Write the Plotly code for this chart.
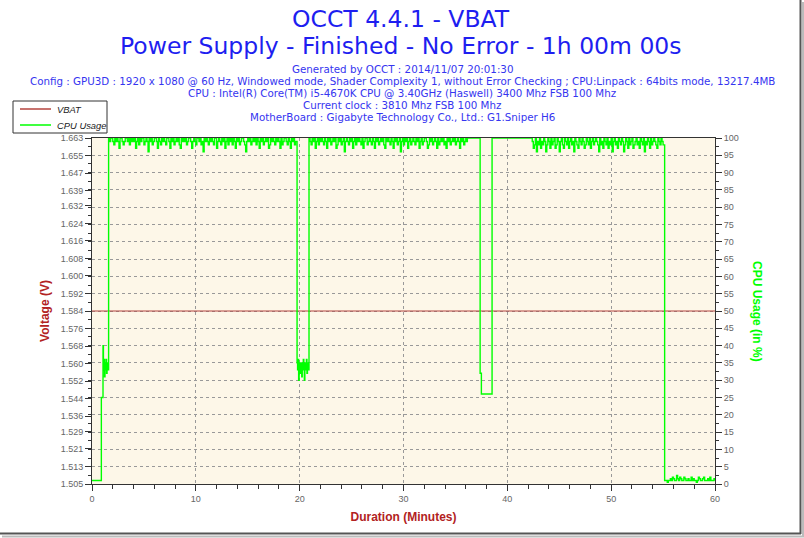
import numpy as np
import plotly.graph_objects as go

# ---------------- data ----------------
title_main = "OCCT 4.4.1 - VBAT"
title_sub = "Power Supply - Finished - No Error - 1h 00m 00s"
info_lines = [
    "Generated by OCCT : 2014/11/07 20:01:30",
    "Config : GPU3D : 1920 x 1080 @ 60 Hz, Windowed mode, Shader Complexity 1, without Error Checking ; CPU:Linpack : 64bits mode, 13217.4MB",
    "CPU : Intel(R) Core(TM) i5-4670K CPU @ 3.40GHz (Haswell) 3400 Mhz FSB 100 Mhz",
    "Current clock : 3810 Mhz FSB 100 Mhz",
    "MotherBoard : Gigabyte Technology Co., Ltd.: G1.Sniper H6",
]
series_names = ["VBAT", "CPU Usage"]

volt_ticks = [1.505, 1.513, 1.521, 1.529, 1.536, 1.544, 1.552, 1.560, 1.568, 1.576,
              1.584, 1.592, 1.600, 1.608, 1.616, 1.624, 1.632, 1.639, 1.647, 1.655, 1.663]
volt_labels = ["%.3f" % v for v in volt_ticks]

vbat_time = [0, 60]
vbat_value = [1.584, 1.584]

# CPU usage, piecewise (minutes, %)
cpu_start_t = [0.0, 0.9, 0.9, 1.06]
cpu_start_v = [1, 1, 25, 40]

dip1_v = [33, 36, 31, 35, 33, 36, 32, 34, 35, 33]            # from 1.10, step 0.05
seg1_v = [100, 99, 100, 100, 99, 98, 100, 99, 100, 99, 97, 100, 100, 99, 98, 99, 100, 100, 99, 100,
          98, 100, 99, 100, 99, 100, 97, 99, 100, 98, 100, 99, 100, 100, 98, 99, 100, 99, 96, 100,
          99, 100, 98, 99, 100, 100, 99, 97, 100, 99, 98, 100, 99, 100, 99, 98, 100, 100, 99, 97,
          100, 99, 100, 98, 99, 100, 99, 100, 98, 97, 100, 99, 100, 99, 100, 98, 99, 100, 100, 99,
          97, 99, 100, 99, 98, 100, 100, 99, 100, 98, 99, 96, 100, 99, 100, 99, 98, 100, 99, 100,
          99, 98, 100, 100, 97, 99, 100, 99, 98, 100, 99, 100, 97, 99, 100, 98, 100, 99, 100, 98,
          100, 99, 97, 100, 99, 100, 98, 99, 100, 100, 99, 98, 96, 99, 100, 99, 100, 98, 99, 100,
          99, 100, 98, 100, 99, 97, 100, 99, 100, 98, 99, 100, 99, 100, 97, 98, 100, 99, 100, 99,
          98, 100, 99, 100, 99, 97, 100, 98, 99, 100, 100, 99, 98, 100, 99, 97, 100, 99, 100, 98,
          99]                                                       # from 1.6, step 0.1
dip2_v = [35, 33, 36, 30, 34, 35, 32, 35, 34, 31, 35, 33, 36, 34, 30, 35, 33, 34, 36, 32,
          35, 34, 33]                                               # from 19.75, step 0.05
seg2_v = [100, 99, 98, 100, 99, 100, 97, 99, 100, 98, 100, 99, 100, 99, 98, 100, 99, 97, 100, 99,
          100, 98, 99, 100, 99, 100, 97, 98, 100, 99, 100, 98, 99, 100, 96, 99, 100, 99, 98, 100,
          99, 100, 97, 99, 100, 98, 100, 99, 100, 99, 98, 100, 97, 99, 100, 100, 98, 99, 100, 99,
          98, 100, 99, 97, 100, 99, 100, 98, 99, 100, 99, 100, 98, 97, 100, 99, 100, 99, 98, 100,
          99, 97, 100, 99, 100, 98, 99, 100, 96, 99, 100, 98, 100, 99, 100, 97, 99, 100, 98, 99,
          100, 99, 98, 100, 99, 100, 97, 99, 100, 98, 99, 100, 100, 99, 97, 98, 100, 99, 100, 98,
          99, 100, 99, 97, 100, 98, 99, 100, 99, 100, 98, 99, 97, 100, 99, 100, 98, 99, 100, 99,
          100, 98, 99, 100, 99, 97, 100, 99, 100, 98, 99, 100, 99]   # from 20.9, step 0.1
flat1_t = [36.15, 37.38, 37.38, 37.5, 37.5, 38.53, 38.53, 42.4]
flat1_v = [100, 100, 32, 32, 26, 26, 100, 100]
seg3_v = [99, 97, 98, 100, 96, 99, 98, 100, 97, 99, 98, 100, 99, 96, 98, 100, 99, 97, 100, 98,
          99, 100, 97, 98, 100, 99, 96, 99, 100, 98, 97, 100, 99, 98, 100, 97, 99, 100, 98, 99,
          96, 100, 99, 98, 97, 100, 99, 98, 100, 99, 97, 98, 100, 99, 98, 100, 97, 99, 100, 98,
          99, 100, 99, 98, 96, 100, 98, 99, 97, 100, 99, 98, 100, 97, 99, 98, 100, 96, 99, 100,
          98, 99, 97, 100, 99, 98, 100, 99, 96, 98, 100, 99, 97, 100, 98, 99, 100, 97, 98, 99,
          100, 98, 99, 97, 100, 99, 98, 100, 96, 99, 98, 100, 99, 97, 100, 98, 99, 100, 99, 98,
          97, 100, 99, 98, 100, 99, 98]                              # from 42.4, step 0.1
tail_v = [1, 1, 0.5, 1, 1, 1.5, 1, 2, 1.5, 1, 1, 2.5, 1.5, 1, 2, 1.5, 1, 1, 2, 1.5,
          1, 1, 1.5, 1, 1, 2, 1, 1.5, 1, 1, 0.5, 1, 2, 1.5, 1, 1, 1.5, 2, 1, 1,
          1, 1.5, 1, 2, 1, 1, 1, 1.5, 1]                             # from 55.2, step 0.1

# ---------------- assemble ----------------
def samples(t0, dt, vals):
    return list(np.round(t0 + dt * np.arange(len(vals)), 3))

cpu_t = (cpu_start_t + samples(1.10, 0.05, dip1_v) + samples(1.6, 0.1, seg1_v)
         + samples(19.75, 0.05, dip2_v) + samples(20.9, 0.1, seg2_v) + flat1_t
         + samples(42.4, 0.1, seg3_v) + [55.15] + samples(55.2, 0.1, tail_v))
cpu_v = (cpu_start_v + dip1_v + seg1_v + dip2_v + seg2_v + flat1_v + seg3_v + [1] + tail_v)

RED = "#B5443F"
GREEN = "#00FF00"
TXT_BLUE = "#1E1EF0"
AX_RED = "#B22222"

fig = go.Figure()
fig.add_trace(go.Scatter(x=vbat_time, y=vbat_value, mode="lines", name=series_names[0],
                         line=dict(color=RED, width=1), yaxis="y", showlegend=False))
fig.add_trace(go.Scatter(x=cpu_t, y=cpu_v, mode="lines", name=series_names[1],
                         line=dict(color=GREEN, width=1.4, shape="hv"), yaxis="y2", showlegend=False))

tick_font = dict(family="Liberation Sans, Arial", size=9, color="#666666")

fig.update_layout(
    width=804, height=538,
    margin=dict(l=92, r=89, t=138, b=54),
    paper_bgcolor="white",
    plot_bgcolor="#FDF7E8",
    showlegend=False,
    xaxis=dict(range=[0, 60], tickmode="linear", tick0=0, dtick=10,
               ticks="outside", ticklen=6, tickcolor="#333333", tickwidth=1,
               minor=dict(dtick=2, ticks="outside", ticklen=4, tickcolor="#333333"),
               showgrid=True, gridcolor="#999999", griddash="dot", gridwidth=1,
               showline=True, linecolor="#333333", linewidth=1, mirror=True,
               zeroline=False, tickfont=tick_font,
               title=dict(text="<b>Duration (Minutes)</b>", standoff=9,
                          font=dict(family="Liberation Sans, Arial", size=12, color=AX_RED))),
    yaxis=dict(range=[1.505, 1.663], tickmode="array", tickvals=volt_ticks, ticktext=volt_labels,
               ticks="outside", ticklen=6, tickcolor="#333333",
               minor=dict(tickmode="linear", tick0=1.505, dtick=0.00395, ticks="outside",
                          ticklen=3, tickcolor="#333333"),
               showgrid=False, zeroline=False,
               showline=True, linecolor="#333333", linewidth=1,
               tickfont=tick_font,
               title=dict(text="<b>Voltage (V)</b>", standoff=8,
                          font=dict(family="Liberation Sans, Arial", size=12, color=AX_RED))),
    yaxis2=dict(range=[0, 100], overlaying="y", side="right", tickmode="linear", tick0=0, dtick=5,
                ticks="outside", ticklen=6, tickcolor="#333333",
                minor=dict(dtick=2.5, ticks="outside", ticklen=3, tickcolor="#333333"),
                showgrid=True, gridcolor="#999999", griddash="dot", gridwidth=1,
                zeroline=False, showline=True, linecolor="#333333", linewidth=1,
                tickfont=tick_font),
)


def py(px):
    return (484 - px) / 346.0


def pxx(px):
    return (px - 92) / 623.0


# titles
fig.add_annotation(text=title_main, xref="paper", yref="paper", x=pxx(401), y=py(19),
                   showarrow=False, font=dict(family="DejaVu Sans", size=23.5, color=TXT_BLUE),
                   xanchor="center", yanchor="middle")
fig.add_annotation(text=title_sub, xref="paper", yref="paper", x=pxx(401), y=py(46),
                   showarrow=False, font=dict(family="DejaVu Sans", size=23.5, color=TXT_BLUE),
                   xanchor="center", yanchor="middle")
for i, line in enumerate(info_lines):
    fig.add_annotation(text=line, xref="paper", yref="paper", x=pxx(402), y=py(69 + 12.1 * i),
                       showarrow=False, borderpad=0,
                       font=dict(family="DejaVu Sans", size=10.3, color="#3535F0"),
                       xanchor="center", yanchor="middle")

fig.add_annotation(text="<b>CPU Usage (in %)</b>", xref="paper", yref="paper", x=pxx(757), y=py(311),
                   showarrow=False, textangle=90,
                   font=dict(family="Liberation Sans, Arial", size=12, color=GREEN),
                   xanchor="center", yanchor="middle")

# legend box (drawn)
fig.add_shape(type="rect", xref="paper", yref="paper", x0=pxx(13), x1=pxx(107), y0=py(133), y1=py(101),
              line=dict(color="#333333", width=1), fillcolor="white", layer="above")
legend_colors = [RED, GREEN]
legend_y = [109, 125]
for name, col, ly in zip(series_names, legend_colors, legend_y):
    fig.add_shape(type="line", xref="paper", yref="paper", x0=pxx(20), x1=pxx(51), y0=py(ly), y1=py(ly),
                  line=dict(color=col, width=1.5), layer="above")
    fig.add_annotation(text=name, xref="paper", yref="paper", x=pxx(56), y=py(ly), showarrow=False,
                       xanchor="left", yanchor="middle", borderpad=0,
                       font=dict(family="Liberation Sans, Arial", size=9.4, color="#222222", style="italic"))

# outer frame / shadow
fig.add_shape(type="line", xref="paper", yref="paper", x0=pxx(800.5), x1=pxx(800.5), y0=py(0), y1=py(534),
              line=dict(color="#555555", width=2))
fig.add_shape(type="line", xref="paper", yref="paper", x0=pxx(0), x1=pxx(801), y0=py(533.5), y1=py(533.5),
              line=dict(color="#555555", width=2))
fig.add_shape(type="line", xref="paper", yref="paper", x0=pxx(803), x1=pxx(803), y0=py(2), y1=py(537),
              line=dict(color="#BBBBBB", width=2))
fig.add_shape(type="line", xref="paper", yref="paper", x0=pxx(2), x1=pxx(804), y0=py(536.5), y1=py(536.5),
              line=dict(color="#BBBBBB", width=2))

fig.write_html("out.html")
